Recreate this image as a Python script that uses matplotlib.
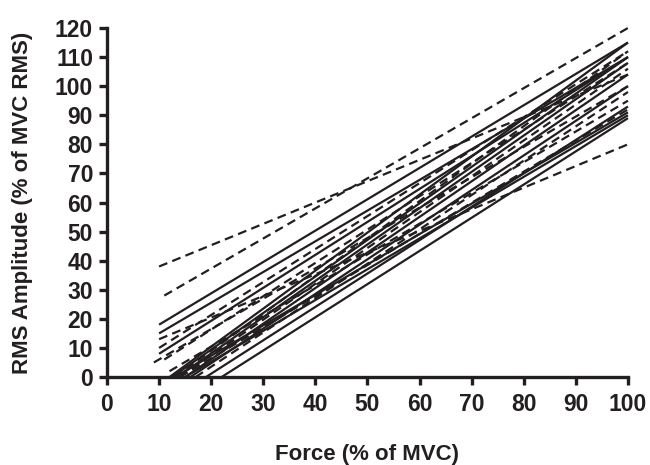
import matplotlib
matplotlib.use("Agg")
import matplotlib.pyplot as plt

# Each regression line: start force (% MVC), start RMS, RMS at 100 % MVC
start_force = [10, 11, 10, 10, 10, 9, 10, 11, 10, 12, 12.5, 13, 13.5, 14, 15, 16, 17, 19, 22, 14, 13, 15, 12]
start_rms   = [38, 28, 18, 15, 13, 5, 8, 6, 10, 0, 0, 0, 0, 0, 0, 0, 0, 0, 0, 0, 0, 0, 2]
end_rms     = [104, 120, 115, 110, 80, 100, 110, 108, 112, 115, 110, 112, 108, 106, 104, 100, 98, 93, 89, 92, 91, 90, 95]
dashed      = [True, True, False, False, True, True, False, True, True, False, False, True, False, True,
               False, False, True, False, False, True, False, False, True]
end_force = 100

x_ticks = list(range(0, 101, 10))
y_ticks = list(range(0, 121, 10))

ink = "#231f20"
plt.rcParams['font.family'] = ['Liberation Sans', 'DejaVu Sans']

fig = plt.figure(figsize=(6.5, 4.65), dpi=100)
ax = fig.add_axes([0.1646, 0.1892, 0.8015, 0.7506])

for x0, y0, y1, d in zip(start_force, start_rms, end_rms, dashed):
    ls = (0, (4, 2.4)) if d else '-'
    ax.plot([x0, end_force], [y0, y1], color=ink, lw=1.6, linestyle=ls,
            solid_capstyle='butt', dash_capstyle='butt', clip_on=False)

ax.set_xlim(0, 100)
ax.set_ylim(0, 120)
ax.set_xticks(x_ticks)
ax.set_yticks(y_ticks)
for s in ['top', 'right']:
    ax.spines[s].set_visible(False)
for s in ['left', 'bottom']:
    ax.spines[s].set_linewidth(2.4)
    ax.spines[s].set_color(ink)
ax.tick_params(direction='out', length=5.5, width=2.4, color=ink, labelcolor=ink,
               labelsize=16.5)
ax.tick_params(axis='x', pad=6)
ax.tick_params(axis='y', pad=4.5)
for lab in ax.get_xticklabels() + ax.get_yticklabels():
    lab.set_fontweight('bold')

ax.set_xlabel("Force (% of MVC)", fontsize=16, fontweight='bold', color=ink, labelpad=20)
ax.set_ylabel("RMS Amplitude (% of MVC RMS)", fontsize=16, fontweight='bold', color=ink, labelpad=16)

fig.savefig("out.png", dpi=100)
